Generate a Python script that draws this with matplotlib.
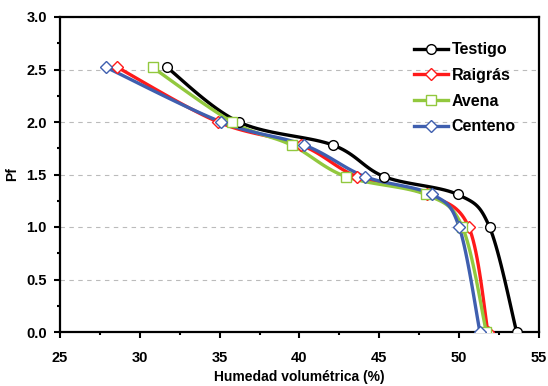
import numpy as np
import matplotlib
matplotlib.use("Agg")
import matplotlib.pyplot as plt
from matplotlib.ticker import MultipleLocator, FormatStrFormatter

plt.rcParams['font.family'] = ['Liberation Sans', 'DejaVu Sans']
plt.rcParams['font.weight'] = 'bold'

pf = [2.52, 2.0, 1.78, 1.48, 1.31, 1.0, 0.0]
testigo = [31.7, 36.2, 42.1, 45.3, 49.9, 51.9, 53.6]
raigras = [28.6, 34.9, 40.1, 43.6, 48.0, 50.6, 51.8]
avena = [30.8, 35.8, 39.5, 42.9, 47.9, 50.2, 51.7]
centeno = [27.9, 35.1, 40.3, 44.1, 48.3, 50.0, 51.3]

series = [
    ("Testigo", testigo, "black", "o"),
    ("Raigrás", raigras, "#FF1A1A", "D"),
    ("Avena", avena, "#92C83E", "s"),
    ("Centeno", centeno, "#3F5FAF", "D"),
]


def smooth(x, y, n=20):
    x = np.asarray(x, float)
    y = np.asarray(y, float)
    px = np.concatenate([[x[0]], x, [x[-1]]])
    py = np.concatenate([[y[0]], y, [y[-1]]])
    xs, ys = [], []
    t = np.linspace(0, 1, n)
    for i in range(1, len(px) - 2):
        p0, p1, p2, p3 = [np.array([px[j], py[j]]) for j in (i - 1, i, i + 1, i + 2)]
        c1 = p1 + (p2 - p0) / 6.0
        c2 = p2 - (p3 - p1) / 6.0
        b = ((1 - t) ** 3)[:, None] * p1 + (3 * (1 - t) ** 2 * t)[:, None] * c1 \
            + (3 * (1 - t) * t ** 2)[:, None] * c2 + (t ** 3)[:, None] * p2
        xs.append(b[:, 0]); ys.append(b[:, 1])
    return np.concatenate(xs), np.concatenate(ys)


fig = plt.figure(figsize=(5.48, 3.86), dpi=100)
ax = fig.add_axes([60 / 548, 1 - 332 / 386, (539 - 60) / 548, (332 - 17) / 386])

for name, xv, col, mk in series:
    sx, sy = smooth(xv, pf)
    ax.plot(sx, sy, color=col, lw=2.4, zorder=3)
    ms = 7 if mk in ("o", "s") else 6
    ax.plot(xv, pf, linestyle='none', marker=mk, ms=ms, mfc='white', mec=col, mew=1.0, zorder=4)
    ax.plot([], [], color=col, lw=2.4, marker=mk, ms=ms, mfc='white', mec=col, mew=1.0, label=name)

ax.set_xlim(25, 55)
ax.set_ylim(0, 3.0)
ax.xaxis.set_major_locator(MultipleLocator(5))
ax.xaxis.set_minor_locator(MultipleLocator(2.5))
ax.yaxis.set_major_locator(MultipleLocator(0.5))
ax.yaxis.set_minor_locator(MultipleLocator(0.25))
ax.yaxis.set_major_formatter(FormatStrFormatter('%.1f'))
ax.grid(axis='y', which='major', color='#BBBBBB', linestyle=(0, (4, 4)), lw=0.8)
ax.set_axisbelow(True)

for s in ax.spines.values():
    s.set_linewidth(1.6)
ax.tick_params(axis='x', which='major', direction='out', length=4.5, width=1.5, labelsize=10.5, pad=9.5)
ax.tick_params(axis='y', which='major', direction='out', length=4.5, width=1.5, labelsize=10.5, pad=5)
ax.tick_params(which='minor', direction='out', length=2.5, width=1.5)
for lbl in ax.get_xticklabels() + ax.get_yticklabels():
    lbl.set_fontweight('bold')

ax.set_xlabel("Humedad volumétrica (%)", fontsize=10, fontweight='bold', labelpad=3)
ax.set_ylabel("Pf", fontsize=10, fontweight='bold', labelpad=5)

leg = ax.legend(loc='upper right', bbox_to_anchor=(0.975, 0.955), frameon=False,
                prop={'weight': 'bold', 'size': 11.5}, handlelength=2.1, labelspacing=0.67,
                handletextpad=0.25, borderaxespad=0.3)

fig.savefig("out.png", dpi=100)
